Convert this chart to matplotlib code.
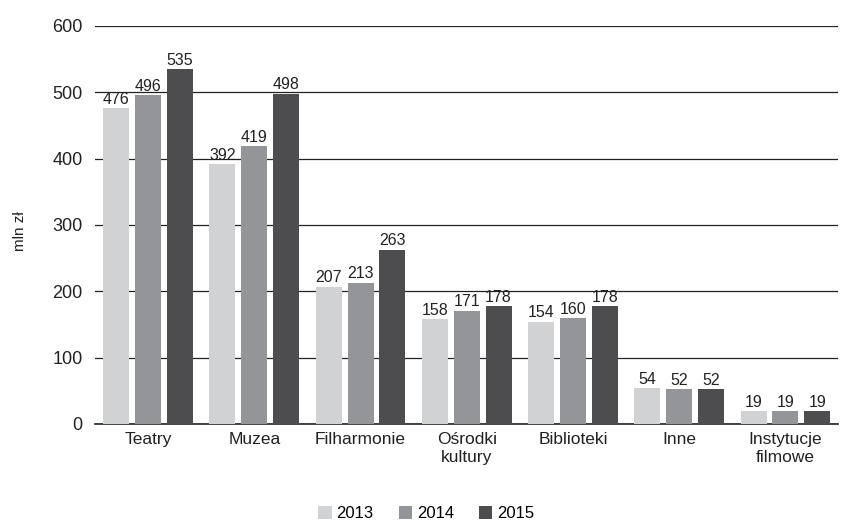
import matplotlib
matplotlib.use("Agg")
import matplotlib.pyplot as plt
import numpy as np

categories = ["Teatry", "Muzea", "Filharmonie", "Ośrodki\nkultury",
              "Biblioteki", "Inne", "Instytucje\nfilmowe"]
years = ["2013", "2014", "2015"]
values_2013 = [476, 392, 207, 158, 154, 54, 19]
values_2014 = [496, 419, 213, 171, 160, 52, 19]
values_2015 = [535, 498, 263, 178, 178, 52, 19]
y_ticks = [0, 100, 200, 300, 400, 500, 600]

colors = ["#d1d2d4", "#939598", "#4d4d4f"]
series = [values_2013, values_2014, values_2015]

plt.rcParams["font.family"] = ["Liberation Sans", "DejaVu Sans"]

fig = plt.figure(figsize=(8.41, 5.29), dpi=100)
ax = fig.add_axes([0.113, 0.1985, 0.884, 0.7525])

x = np.arange(len(categories))
width = 0.245
step = 0.30
for i, (vals, col, yr) in enumerate(zip(series, colors, years)):
    bars = ax.bar(x + (i - 1) * step, vals, width, color=col, label=yr, zorder=3)
    for b, v in zip(bars, vals):
        ax.text(b.get_x() + b.get_width() / 2, v + 2, str(v),
                ha="center", va="bottom", fontsize=11.5, color="#222222", zorder=4)

ax.set_xlim(-0.5, len(categories) - 0.5)
ax.set_ylim(0, 600)
ax.set_yticks(y_ticks)
ax.tick_params(axis="y", length=0, labelsize=13, pad=9, colors="#222222")
ax.tick_params(axis="x", length=0, labelsize=12.5, pad=6, colors="#222222")
ax.set_xticks(x)
ax.set_xticklabels(categories, linespacing=1.2)
ax.grid(axis="y", color="#222222", linewidth=0.9, zorder=0)
for s in ["top", "right", "left"]:
    ax.spines[s].set_visible(False)
ax.spines["bottom"].set_color("#222222")
ax.spines["bottom"].set_linewidth(1.2)
fig.text(0.024, 0.563, "mln zł", rotation=90, ha="center", va="center",
         fontsize=11, color="#222222")

fig.legend(loc="lower center", bbox_to_anchor=(0.507, -0.014), ncol=3, frameon=False,
           fontsize=12, handlelength=0.8, handleheight=0.8, handletextpad=0.3,
           columnspacing=1.5)

fig.savefig("out.png", dpi=100)
